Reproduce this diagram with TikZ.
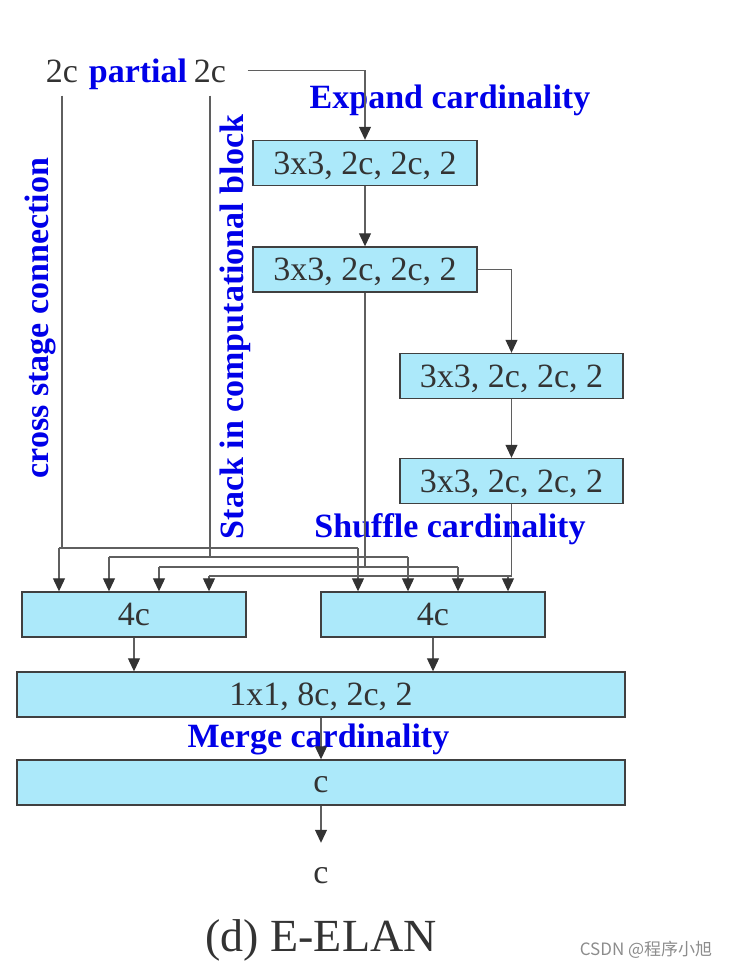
\documentclass[tikz,border=0pt]{standalone}
\usepackage{fontspec}
\setmainfont{Liberation Serif}
\newfontfamily\cjkfont{Noto Sans CJK SC}
\usetikzlibrary{arrows.meta}
\definecolor{boxfill}{RGB}{172,233,250}
\definecolor{lbl}{RGB}{0,0,232}
\definecolor{wiregray}{RGB}{95,95,95}

\begin{document}
\begin{tikzpicture}[x=1pt,y=-1pt,
  every node/.style={font=\fontsize{34}{40}\selectfont,text=black!80},
  blk/.style={draw=black!75,line width=1.4pt,fill=boxfill,inner sep=0pt,minimum height=45pt,text depth=0pt},
  note/.style={text=lbl,font=\fontsize{34}{40}\selectfont\bfseries,inner sep=2pt},
  wire/.style={draw=wiregray,line width=1.1pt},
  arr/.style={wire,-{Triangle[length=13pt,width=12pt,color=black!80]}}]
  \useasboundingbox (0,0) rectangle (730,970);
  % inputs
  \node[anchor=base,inner sep=2pt] (in0) at (62,82) {2c};
  \node[note,anchor=base] (part) at (138,82) {partial};
  \node[anchor=base,inner sep=2pt] (in1) at (210,82) {2c};
  % computational blocks
  \node[blk,minimum width=224pt] (b1) at (365,163) {3x3, 2c, 2c, 2};
  \node[blk,minimum width=224pt] (b2) at (365,269.5) {3x3, 2c, 2c, 2};
  \node[blk,minimum width=223pt] (b3) at (511.5,376) {3x3, 2c, 2c, 2};
  \node[blk,minimum width=223pt] (b4) at (511.5,481) {3x3, 2c, 2c, 2};
  \node[blk,minimum width=224pt] (l4c) at (134,614.5) {4c};
  \node[blk,minimum width=224pt] (r4c) at (433,614.5) {4c};
  \node[blk,minimum width=608pt] (fuse) at (321,694.5) {1x1, 8c, 2c, 2};
  \node[blk,minimum width=608pt,text height=19pt] (outb) at (321,782.5) {c};
  \node[anchor=base,inner sep=0pt] (outc) at (321,883) {c};
  % labels
  \node[note,anchor=base] (expand) at (450,108) {Expand cardinality};
  \node[note,anchor=base] (shuffle) at (450,537) {Shuffle cardinality};
  \node[note,anchor=base] (merge) at (318.5,747) {Merge cardinality};
  \node[note,rotate=90] (cross) at (40,318) {cross stage connection};
  \node[note,rotate=90] (stack) at (235,327) {Stack in computational block};
  \node[anchor=base,font=\fontsize{46}{52}\selectfont] (title) at (321,951) {(d) E-ELAN};
  \node[font=\cjkfont\fontsize{17}{20}\selectfont,text=black!45] (mark) at (646,950) {CSDN @程序小旭};
  % main chain
  \draw[arr] ([xshift=19.5pt]in1.east) -| (b1.north);
  \draw[arr] (b1) -- (b2);
  \draw[arr] (b2.east) -| (b3.north);
  \draw[arr] (b3) -- (b4);
  % shuffle into the two 4c groups
  \foreach \k/\o in {1/-75,2/-25,3/25,4/75} {
    \coordinate (li\k) at ([xshift=\o pt]l4c.north);
    \coordinate (ri\k) at ([xshift=\o pt]r4c.north);
  }
  \foreach \src/\lev/\k/\sh in {in0/548/1/11, in1/557/2/11, b2/567/3/0, b4/576/4/0} {
    \draw[wire,shorten <=\sh pt] (\src.south) |- (li\k |- 0,\lev);
    \draw[wire] (li\k |- 0,\lev) -- (ri\k |- 0,\lev);
    \draw[arr] (li\k |- 0,\lev) -- (li\k);
    \draw[arr] (ri\k |- 0,\lev) -- (ri\k);
  }
  % merge
  \draw[arr] (l4c) -- (l4c |- fuse.north);
  \draw[arr] (r4c) -- (r4c |- fuse.north);
  \draw[arr] (fuse) -- (outb);
  \draw[arr] (outb) -- ([yshift=24pt]outc.north);
\end{tikzpicture}
\end{document}
